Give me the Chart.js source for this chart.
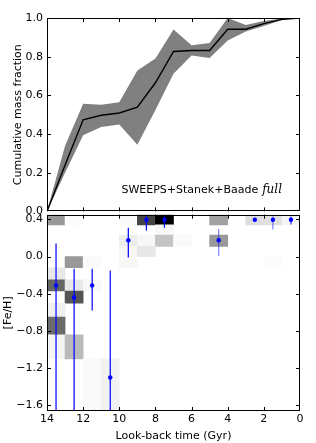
<!DOCTYPE html>
<html>
<head>
<meta charset="utf-8">
<script src="https://cdn.jsdelivr.net/npm/chart.js@4.4.0/dist/chart.umd.min.js"></script>
<style>
html, body { margin: 0; padding: 0; background: #fff; }
#wrap { position: relative; width: 316px; height: 443px; overflow: hidden; }
canvas { position: absolute; left: 0; }
#top { top: 0; }
#bot { top: 200px; }
</style>
</head>
<body>
<div id="wrap">
  <canvas id="top" width="316" height="222"></canvas>
  <canvas id="bot" width="316" height="243"></canvas>
</div>
<script>
// cumulative mass fraction vs look-back time (Gyr)
const cumTime = [14, 13, 12, 11, 10, 9, 8, 7, 6, 5, 4, 3, 2, 1, 0];
const cumMed = [0, 0.24, 0.474, 0.497, 0.509, 0.539, 0.665, 0.827, 0.832, 0.832, 0.942, 0.942, 0.971, 0.993, 1.0];
const cumHi = [0, 0.34, 0.556, 0.551, 0.565, 0.728, 0.79, 0.94, 0.859, 0.871, 1.0, 0.964, 0.985, 0.997, 1.0];
const cumLo = [0, 0.2, 0.394, 0.437, 0.449, 0.345, 0.524, 0.712, 0.806, 0.793, 0.884, 0.93, 0.958, 0.99, 1.0];

// age-metallicity map: [Fe/H] bin edges, then one entry per shaded cell
const feEdges = [0.45, 0.34, 0.23, 0.11, 0.0, -0.12, -0.25, -0.37, -0.50, -0.65, -0.84, -1.10, -1.66];
const cellTime = [13.5, 12.5, 9.5, 8.5, 7.5, 4.5, 2.5, 1.5, 0.5,
                  7.5,
                  9.5, 8.5, 7.5, 6.5, 4.5,
                  9.5, 8.5,
                  12.5, 11.5, 9.5, 1.5,
                  13.5,
                  13.5, 12.5, 11.5,
                  12.5,
                  13.5,
                  13.5,
                  13.5, 12.5,
                  11.5, 10.5];
const cellRow = [0, 0, 0, 0, 0, 0, 0, 0, 0,
                 1,
                 2, 2, 2, 2, 2,
                 3, 3,
                 4, 4, 4, 4,
                 5,
                 6, 6, 6,
                 7,
                 8,
                 9,
                 10, 10,
                 11, 11];
const cellWeight = [0.4, 0.015, 0.02, 0.73, 1.0, 0.37, 0.13, 0.12, 0.04,
                    0.03,
                    0.07, 0.03, 0.23, 0.02, 0.4,
                    0.03, 0.09,
                    0.4, 0.02, 0.03, 0.01,
                    0.09,
                    0.6, 0.09, 0.03,
                    0.67,
                    0.06,
                    0.58,
                    0.04, 0.27,
                    0.02, 0.05];

// mean [Fe/H] per age bin with error bars
const ptTime = [13.5, 12.5, 11.5, 10.5, 9.5, 8.5, 7.5, 4.5, 2.5, 1.5, 0.5];
const ptFe = [-0.31, -0.44, -0.31, -1.30, 0.175, 0.395, 0.395, 0.175, 0.395, 0.395, 0.395];
const ptHi = [0.14, -0.13, -0.13, -0.15, 0.31, 0.43, 0.43, 0.295, 0.395, 0.43, 0.43];
const ptLo = [-1.8, -1.8, -0.58, -1.8, -0.01, 0.28, 0.31, 0.007, 0.395, 0.29, 0.345];
const ptAlpha = [1, 1, 1, 1, 1, 1, 1, 0.5, 1, 0.5, 0.8];

const timeTicks = [14, 12, 10, 8, 6, 4, 2, 0];
const fracTicks = [0, 0.2, 0.4, 0.6, 0.8, 1.0];
const feTicks = [0.4, 0.0, -0.4, -0.8, -1.2, -1.6];
const noteText = 'SWEEPS+Stanek+Baade';

Chart.defaults.font.family = '"DejaVu Sans"';
Chart.defaults.font.size = 11;
Chart.defaults.color = '#000';

const fmt1 = v => (v < -1e-9 ? '\u2212' : '') + Math.abs(v).toFixed(1);

// black frame with inward ticks on all four sides, like the matplotlib classic style
const framePlugin = {
  id: 'frame',
  afterDatasetsDraw(chart, args, opts) {
    const { ctx, chartArea: a, scales } = chart;
    const L = a.left, R = a.right, T = a.top, B = a.bottom, len = 4;
    ctx.save();
    ctx.strokeStyle = '#000';
    ctx.lineWidth = 1;
    ctx.beginPath();
    for (const v of opts.xTicks) {
      const x = Math.round(scales.x.getPixelForValue(v)) + 0.5;
      if (x < L + 1 || x > R - 1) continue;
      ctx.moveTo(x, T); ctx.lineTo(x, T + len);
      ctx.moveTo(x, B); ctx.lineTo(x, B - len);
    }
    for (const v of opts.yTicks) {
      const y = Math.round(scales.y.getPixelForValue(v)) + 0.5;
      if (y < T + 1 || y > B - 1) continue;
      ctx.moveTo(L, y); ctx.lineTo(L + len, y);
      ctx.moveTo(R, y); ctx.lineTo(R - len, y);
    }
    ctx.stroke();
    ctx.strokeRect(Math.round(L) + 0.5, Math.round(T) + 0.5, Math.round(R - L) - 1, Math.round(B - T) - 1);
    ctx.restore();
  }
};

const notePlugin = {
  id: 'note',
  afterDatasetsDraw(chart) {
    const { ctx, chartArea: a } = chart;
    const xr = a.right - 18, yb = a.bottom - 18;
    ctx.save();
    ctx.fillStyle = '#000';
    ctx.textBaseline = 'alphabetic';
    ctx.textAlign = 'right';
    ctx.font = 'italic 12px "DejaVu Serif"';
    ctx.fillText('full', xr, yb);
    const w = ctx.measureText('full').width;
    ctx.font = '11px "DejaVu Sans"';
    ctx.fillText(noteText, xr - w - 4, yb);
    ctx.restore();
  }
};

const noEvents = { animation: false, responsive: false, events: [] };
const noGrid = { display: false, drawTicks: false, offset: false };

new Chart(document.getElementById('top'), {
  type: 'line',
  data: {
    datasets: [
      {
        data: cumTime.map((t, i) => ({ x: t, y: cumMed[i] })),
        borderColor: '#000', borderWidth: 1.4, pointRadius: 0, fill: false, tension: 0
      },
      {
        data: cumTime.map((t, i) => ({ x: t, y: cumHi[i] })),
        borderColor: 'rgba(0,0,0,0)', borderWidth: 0, pointRadius: 0,
        fill: '+1', backgroundColor: '#808080', tension: 0
      },
      {
        data: cumTime.map((t, i) => ({ x: t, y: cumLo[i] })),
        borderColor: 'rgba(0,0,0,0)', borderWidth: 0, pointRadius: 0, fill: false, tension: 0
      }
    ]
  },
  options: {
    ...noEvents,
    layout: { padding: { top: 18, right: 16, bottom: 8, left: 0 } },
    plugins: {
      legend: { display: false },
      tooltip: { enabled: false },
      frame: { xTicks: timeTicks, yTicks: fracTicks }
    },
    scales: {
      x: {
        type: 'linear', min: 0, max: 14, reverse: true,
        grid: noGrid, border: { display: false },
        ticks: { display: false },
        afterFit: s => { s.height = 0; }
      },
      y: {
        min: 0, max: 1,
        grid: noGrid, border: { display: false },
        afterBuildTicks: s => { s.ticks = fracTicks.map(v => ({ value: v })); },
        ticks: { padding: 4, callback: v => fmt1(v) },
        title: { display: true, text: 'Cumulative mass fraction', padding: { top: 11.4, bottom: 0 } },
        afterFit: s => { s.width = 47; }
      }
    }
  },
  plugins: [framePlugin, notePlugin]
});

const cells = cellTime.map((t, i) => ({ x: t, y: [feEdges[cellRow[i] + 1], feEdges[cellRow[i]]] }));
const cellColors = cellWeight.map(w => {
  const g = Math.round(255 * (1 - w));
  return `rgb(${g},${g},${g})`;
});

const errSets = ptTime.map((t, i) => ({
  type: 'line',
  data: [{ x: t, y: ptLo[i] }, { x: t, y: ptHi[i] }],
  borderColor: `rgba(0,0,255,${ptAlpha[i]})`,
  borderWidth: 1.2, pointRadius: 0, fill: false, order: 2
}));

new Chart(document.getElementById('bot'), {
  type: 'bar',
  data: {
    datasets: [
      {
        type: 'scatter',
        data: ptTime.map((t, i) => ({ x: t, y: ptFe[i] })),
        backgroundColor: '#0000ff', borderWidth: 0, pointRadius: 2.2, order: 1
      },
      ...errSets,
      {
        type: 'bar',
        data: cells,
        backgroundColor: cellColors,
        borderWidth: 0, barPercentage: 1, categoryPercentage: 1, order: 3
      }
    ]
  },
  options: {
    ...noEvents,
    layout: { padding: { top: 14.7, right: 16, bottom: 0, left: 0 } },
    plugins: {
      legend: { display: false },
      tooltip: { enabled: false },
      frame: { xTicks: timeTicks, yTicks: feTicks }
    },
    scales: {
      x: {
        type: 'linear', min: 0, max: 14, reverse: true, offset: false,
        grid: noGrid, border: { display: false },
        afterBuildTicks: s => { s.ticks = timeTicks.map(v => ({ value: v })); },
        ticks: { padding: 2, maxRotation: 0, autoSkip: false, callback: v => String(v) },
        title: { display: true, text: 'Look-back time (Gyr)', padding: { top: 0, bottom: 0.4 } },
        afterFit: s => { s.height = 32; }
      },
      y: {
        type: 'linear', min: -1.66, max: 0.45,
        grid: noGrid, border: { display: false },
        afterBuildTicks: s => { s.ticks = feTicks.map(v => ({ value: v })); },
        ticks: { padding: 4, callback: v => fmt1(v) },
        title: { display: true, text: '[Fe/H]', padding: { top: 1.4, bottom: 0 } },
        afterFit: s => { s.width = 47; }
      }
    }
  },
  plugins: [framePlugin]
});
</script>
</body>
</html>
